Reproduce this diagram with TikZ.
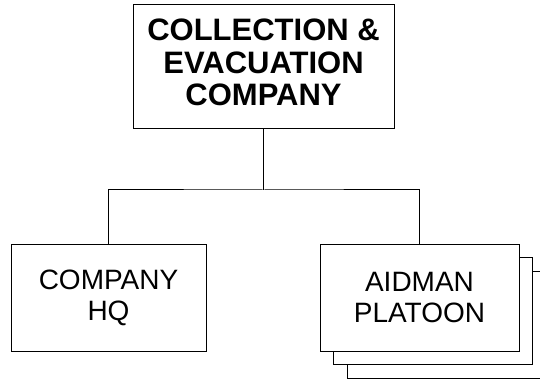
\documentclass[tikz,border=0pt]{standalone}
\usepackage{fontspec}
\setmainfont{Liberation Sans}
\usetikzlibrary{shadows}
\begin{document}
\begin{tikzpicture}[x=1pt,y=-1pt,
  boxstyle/.style={draw=black, line width=1pt, fill=white, align=center, inner sep=0pt},
  bigfont/.style={font=\fontsize{31}{32.5}\selectfont\bfseries},
  smallfont/.style={font=\fontsize{28}{31}\selectfont},
  plain/.style={align=center, inner sep=0pt},
  link/.style={draw=black, line width=1pt}]
\useasboundingbox (0,0) rectangle (540,379);
\clip (0,0) rectangle (540,379);
\node[boxstyle, minimum width=261pt, minimum height=124pt] (top) at (263.5,67) {};
\node[plain, bigfont] (toptext) at (263.5,62.5) {COLLECTION \&\\EVACUATION\\COMPANY};
\node[boxstyle, smallfont, minimum width=195pt, minimum height=107pt] (hq) at (108.5,297.5)
  {COMPANY\\HQ};
\node[boxstyle, smallfont, minimum width=199pt, minimum height=107pt,
  double copy shadow={shadow xshift=13.5pt, shadow yshift=-13.5pt, draw=black, fill=white, line width=1pt}] (plt) at (419.5,297.5)
  {AIDMAN\\PLATOON};
\coordinate (j) at (263.5,190);
\draw[link] (top.south) -- (j);
\draw[link] (hq.north) |- (j) -| (plt.north);
\end{tikzpicture}
\end{document}
